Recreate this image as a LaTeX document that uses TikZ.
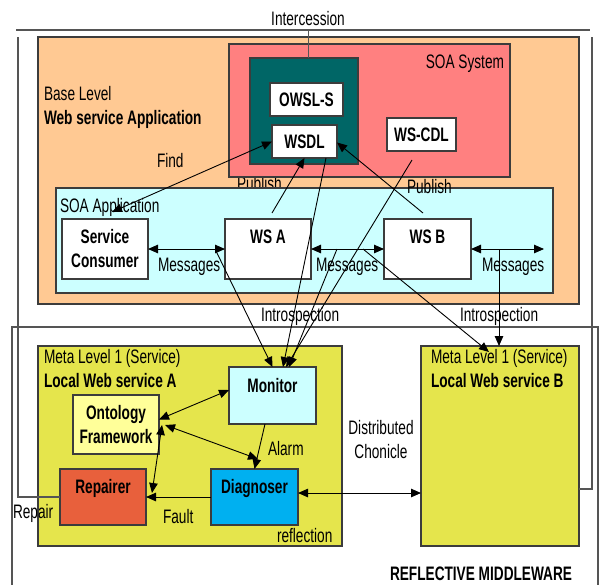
\documentclass[tikz,border=0pt]{standalone}
\usepackage{fontspec}
\setmainfont{Liberation Sans}[FakeStretch=0.70]
\usetikzlibrary{arrows.meta}

\definecolor{framegray}{RGB}{85,85,85}
\definecolor{boxline}{RGB}{60,60,60}
\definecolor{baseorange}{RGB}{255,201,147}
\definecolor{soared}{RGB}{255,128,128}
\definecolor{darkteal}{RGB}{0,102,102}
\definecolor{lightcyan}{RGB}{204,255,255}
\definecolor{metayellow}{RGB}{229,229,76}
\definecolor{paleyellow}{RGB}{255,255,153}
\definecolor{repairred}{RGB}{232,96,60}
\definecolor{diagblue}{RGB}{0,176,240}

\begin{document}
\begin{tikzpicture}[x=1pt, y=-1pt,
  font=\fontsize{19.5}{24}\selectfont,
  box/.style={draw=boxline, line width=1.4pt, inner sep=0pt, outer sep=0pt,
              anchor=north west, align=center},
  lbl/.style={inner sep=0pt, outer sep=0pt, anchor=base west},
  bfs/.style={font=\fontsize{19.5}{24}\selectfont\bfseries},
  link/.style={line width=0.9pt, draw=black},
  arr/.style={link, -{Triangle[length=10pt,width=8.5pt]}},
  darr/.style={link, {Triangle[length=10pt,width=8.5pt]}-{Triangle[length=10pt,width=8.5pt]}},
  frame/.style={draw=framegray, line width=1.4pt}
]
\useasboundingbox (0,0) rectangle (599,584);

% ---------- outer frame ----------
\coordinate (topL) at (16,30);
\coordinate (topR) at (590,30);
\coordinate (frameL) at (18,37);
\coordinate (frameR) at (592,37);
\draw[frame] (topL) -- (topR);
\node[lbl, anchor=base] (interc) at (308,25) {Intercession};

% reflective middleware frame
\node[box, draw=framegray, minimum width=586pt, minimum height=280pt] (middleware) at (12,327) {};
\node[lbl, bfs] (mwtitle) at (390,580) {REFLECTIVE MIDDLEWARE};

% ---------- base level ----------
\node[box, fill=baseorange, minimum width=541pt, minimum height=267pt] (base) at (38,37) {};
\node[lbl] (baselvl) at (44,100) {Base Level};
\node[lbl, bfs] (baseapp) at (44,124) {Web service Application};
\node[lbl] (publishA) at (237,190) {Publish};

% SOA system
\node[box, fill=soared, minimum width=281pt, minimum height=133pt] (soasys) at (229,44) {};
\node[lbl, anchor=base east] (soasystxt) at (504,68) {SOA System};
\node[box, fill=darkteal, minimum width=108pt, minimum height=106pt] (teal) at (250,58) {};
\node[box, bfs, fill=white, minimum width=73pt, minimum height=33pt] (owsl) at (270,83) {OWSL-S};
\node[box, bfs, fill=white, minimum width=65pt, minimum height=33pt] (wsdl) at (272,125) {WSDL};
\node[box, bfs, fill=white, minimum width=69pt, minimum height=33pt] (wscdl) at (387,118) {WS-CDL};

\draw[frame, line width=1pt] (interc |- topL) -- (interc |- teal.north);

% SOA application
\node[box, fill=lightcyan, minimum width=497pt, minimum height=105pt] (soaapp) at (56,188) {};
\node[lbl] (soaapptxt) at (60,212) {SOA Application};
\node[box, bfs, fill=white, minimum width=86pt, minimum height=60pt] (consumer) at (62,219) {Service\\Consumer};
\node[box, fill=white, minimum width=86pt, minimum height=60pt] (wsa) at (225,219) {};
\node[lbl, bfs, anchor=base] (wsatxt) at (268,243) {WS A};
\node[box, fill=white, minimum width=87pt, minimum height=60pt] (wsb) at (384,219) {};
\node[lbl, bfs, anchor=base] (wsbtxt) at (427.5,243) {WS B};

\node[lbl] (find) at (157,167) {Find};
\node[lbl] (publishB) at (407,193) {Publish};
\node[lbl] (msg1) at (158,271) {Messages};
\node[lbl] (msg2) at (316,271) {Messages};
\node[lbl] (msg3) at (482,271) {Messages};
\node[lbl] (introA) at (261,321) {Introspection};
\node[lbl] (introB) at (460,321) {Introspection};

% ---------- meta level ----------
\node[box, fill=metayellow, minimum width=304pt, minimum height=200pt] (metaA) at (38,346) {};
\node[lbl] (metaAtxt) at (44,363) {Meta Level 1 (Service)};
\node[lbl, bfs] (metaAname) at (44,387) {Local Web service A};
\node[box, fill=metayellow, minimum width=158pt, minimum height=200pt] (metaB) at (421,346) {};
\node[lbl] (metaBtxt) at (431,363) {Meta Level 1 (Service)};
\node[lbl, bfs] (metaBname) at (431,387) {Local Web service B};

\node[box, bfs, fill=paleyellow, minimum width=86pt, minimum height=59pt] (onto) at (73,395) {Ontology\\Framework};
\node[box, fill=lightcyan, minimum width=87pt, minimum height=57pt] (monitor) at (229,367) {};
\node[lbl, bfs, anchor=base] (monitortxt) at (272.5,392) {Monitor};
\node[box, fill=repairred, minimum width=86pt, minimum height=56pt] (repairer) at (60,469) {};
\node[lbl, bfs, anchor=base] (repairertxt) at (103,493) {Repairer};
\node[box, fill=diagblue, minimum width=87pt, minimum height=56pt] (diag) at (211,469) {};
\node[lbl, bfs, anchor=base] (diagtxt) at (254.5,493) {Diagnoser};

\node[lbl] (alarm) at (268,455) {Alarm};
\node[lbl] (fault) at (163,523) {Fault};
\node[lbl] (repair) at (13,518) {Repair};
\node[lbl] (reflection) at (277,542) {reflection};
\node[lbl, anchor=base, align=center] (distrib) at (381,458) {Distributed\\Chonicle};

% ---------- frame sides ----------
\coordinate (stubR) at (579,489);
\draw[frame] (frameL) |- (repairer.west);
\draw[frame] (frameR) |- (stubR);

% ---------- base level connectors ----------
\coordinate (findEnd) at (112,212);
\coordinate (pubAStart) at (272,213);
\coordinate (pubBStart) at (423,213);
\coordinate (msgR) at (544,249);
\draw[darr] (findEnd) -- (wsdl.west);
\draw[arr] (pubAStart) -- (wsdl.south);
\draw[arr] (pubBStart) -- ([yshift=-1pt]wsdl.east);

\draw[darr] (consumer.east) -- (wsa.west);
\draw[darr] (wsa.east) -- (wsb.west);
\draw[darr] (wsb.east) -- (msgR);

% introspection links down to the meta level
\coordinate (tapA) at (216,251);
\coordinate (tapMid) at (337,249);
\coordinate (tapB) at (363,249);
\coordinate (tapR) at (499,249);
\coordinate (wscdlOut) at (412,160);
\coordinate (metaBin) at (489,352);
\draw[arr] (tapA) -- (monitor.north);
\draw[arr] ([xshift=21.5pt]wsdl.south) -- ([xshift=10.5pt]monitor.north);
\draw[arr] (wscdlOut) -- ([xshift=13.5pt]monitor.north);
\draw[arr] (tapMid) -- ([xshift=16.5pt]monitor.north);
\draw[arr] (tapB) -- (metaBin);
\draw[arr] (tapR) -- (tapR |- metaB.north);

% ---------- meta level connectors ----------
\coordinate (ontoDiag) at (165,425);
\coordinate (diagIn) at (258,459);
\coordinate (ontoLow) at (162,425);
\coordinate (repIn) at (152,493);
\draw[darr] ([yshift=5pt]onto.east) -- ([yshift=5.5pt]monitor.west);
\draw[darr] (ontoDiag) -- (diagIn);
\draw[darr] (ontoLow) -- (repIn);
\draw[arr] ([xshift=-7.5pt]monitor.south) -- (diag.north);
\draw[arr] (diag.west) -- (repairer.east);
\draw[darr] ([yshift=4pt]diag.east) -- ([yshift=4pt]diag.east -| metaB.west);

\end{tikzpicture}
\end{document}
